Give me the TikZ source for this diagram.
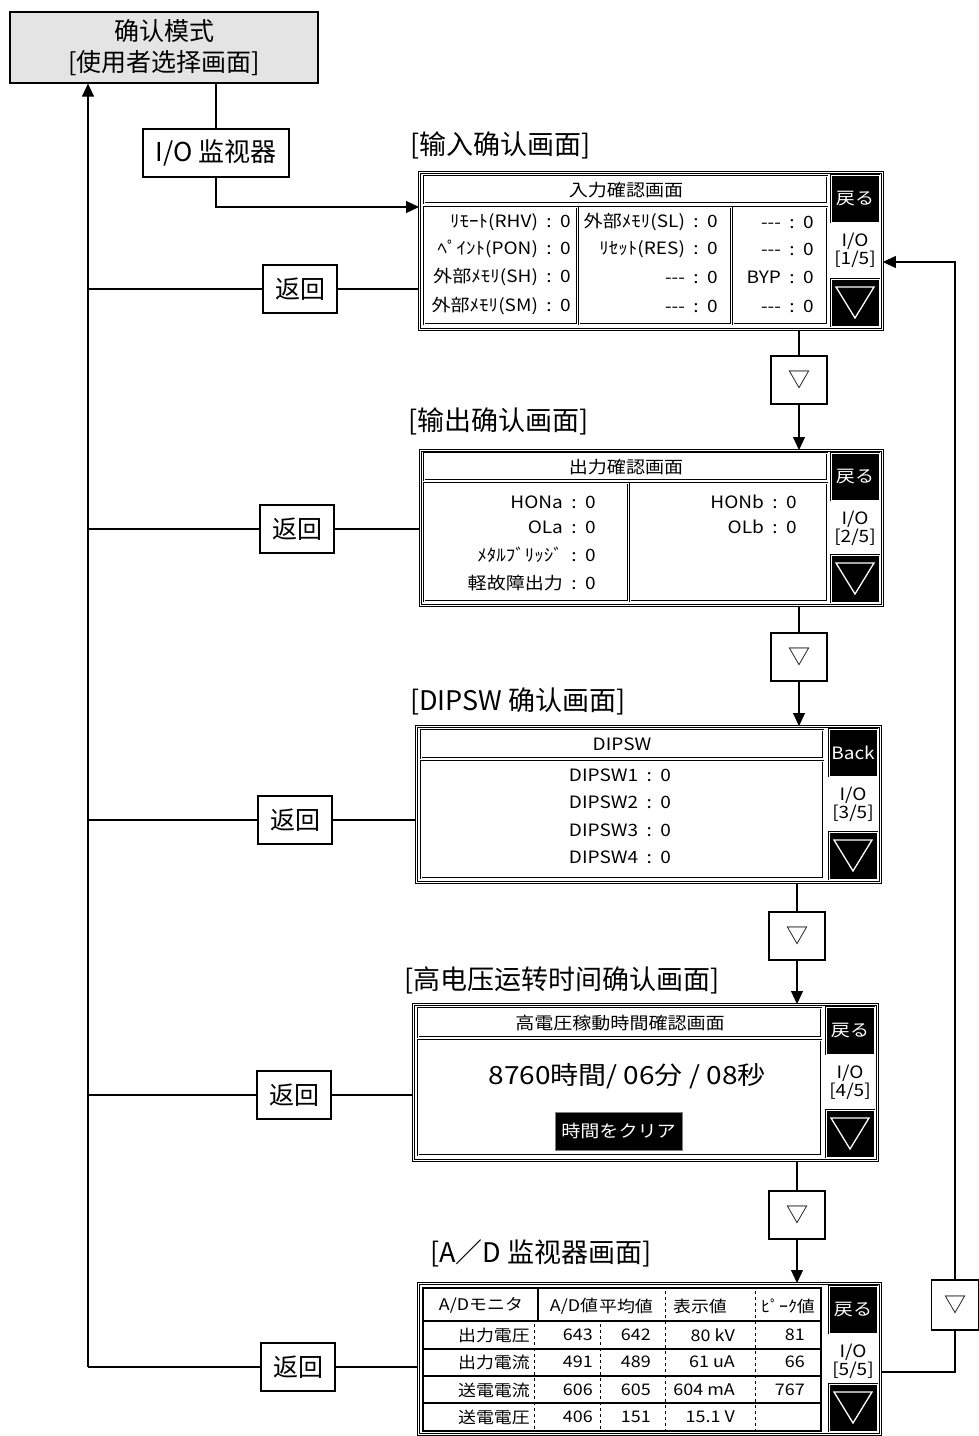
\documentclass[tikz,border=0pt]{standalone}
\usepackage{fontspec}
\usepackage{tikz}
\usetikzlibrary{arrows.meta,positioning}
\setmainfont{Noto Sans CJK SC}
\newfontfamily\hmifont[FakeStretch=1.12]{Noto Sans CJK JP}
\definecolor{panelgray}{HTML}{E4E4E4}
\definecolor{edgegray}{HTML}{7F7F7F}
\tikzset{
  ar/.style={-{Triangle[length=13pt,width=12pt]},line width=1.2pt},
  ln/.style={line width=1.2pt},
  box/.style={draw,line width=1.2pt,fill=white,align=center,inner sep=0pt,font=\fontsize{25}{31}\selectfont},
  navbox/.style={box,minimum width=56pt,minimum height=48pt,font=\fontsize{22}{24}\selectfont},
  retbox/.style={box,minimum width=74pt,minimum height=48pt},
  caption/.style={anchor=west,inner sep=0pt,font=\fontsize{27}{30}\selectfont},
  scr/.style={draw,double,double distance=1.6pt,line width=0.9pt,anchor=north west,inner sep=0pt},
  pane/.style={draw,double,double distance=1pt,line width=0.6pt},
  hmi/.style={inner sep=0pt,font=\hmifont\fontsize{17}{18}\selectfont},
  cell/.style={hmi,font=\hmifont\fontsize{16}{18}\selectfont},
  dsep/.style={dash pattern=on 3pt off 3pt,line width=1pt}
}
\def\dsh{-{}-{}-}
\def\eq{\enspace:\enspace0}

\begin{document}
\begin{tikzpicture}[x=1pt,y=-1pt]
\useasboundingbox (0,0) rectangle (979,1436);

% mode selection and entry
\node[box,fill=panelgray,minimum width=308pt,minimum height=71pt] (top) at (164,47.5) {确认模式\\{[}使用者选择画面{]}};
\node[box,minimum width=146pt,minimum height=48pt,font=\fontsize{26}{30}\selectfont] (io) at (216,153) {I/O 监视器};

% screen captions
\node[caption] (c1) at (410,145) {[输入确认画面]};
\node[caption] (c2) at (408,421) {[输出确认画面]};
\node[caption] (c3) at (410,701) {[DIPSW 确认画面]};
\node[caption] (c4) at (404,980) {[高电压运转时间确认画面]};
\node[caption] (c5) at (430,1253) {[A／D 监视器画面]};

% screen frames with side buttons
\foreach \i/\l/\t/\r/\b/\back in {1/419/172/882/329/戻る,2/420/450/882/605/戻る,3/416/726/880/882/Back,4/413/1004/877/1160/戻る,5/418/1283/880/1434/戻る}{
  \node[scr,minimum width=\r-\l,minimum height=\b-\t] (s\i) at (\l,\t) {};
  \draw[pane,fill=black] (\r-51,\t+3) rectangle (\r-3,\t+50);
  \node[hmi,text=white] at (\r-27,\t+27) {\back};
  \node[hmi] at (\r-27,\t+69) {I/O};
  \node[hmi] at (\r-27,\t+87) {[\i/5]};
  \draw[pane,fill=black] (\r-51,\b-50) rectangle (\r-3,\b-3);
  \draw[white,line width=1.3pt] (\r-46,\b-42) -- (\r-8,\b-42) -- (\r-27,\b-11) -- cycle;
}

% input screen
\draw[pane] (424,176) rectangle (827,203);
\node[hmi] at (626,190) {入力確認画面};
\draw[pane] (424,207) rectangle (577,324);
\draw[pane] (579,207) rectangle (731,324);
\draw[pane] (733,207) rectangle (827,324);
\foreach \y/\a/\b/\c in {222/ﾘﾓｰﾄ(RHV)/外部ﾒﾓﾘ(SL)/\dsh,249/ﾍﾟｲﾝﾄ(PON)/ﾘｾｯﾄ(RES)/\dsh,277/外部ﾒﾓﾘ(SH)/\dsh/BYP,306/外部ﾒﾓﾘ(SM)/\dsh/\dsh}{
  \node[hmi,anchor=east] at (571,\y) {\a\eq};
  \node[hmi,anchor=east] at (718,\y) {\b\eq};
  \node[hmi,anchor=east] at (814,\y) {\c\eq};
}

% output screen
\draw[pane] (424,453) rectangle (827,480);
\node[hmi] at (626,467) {出力確認画面};
\draw[pane] (424,483) rectangle (628,601);
\draw[pane] (630,483) rectangle (827,601);
\foreach \y/\a in {502/HONa,527/OLa,555/ﾒﾀﾙﾌﾞﾘｯｼﾞ,583/軽故障出力}
  \node[hmi,anchor=east] at (596,\y) {\a\eq};
\foreach \y/\a in {502/HONb,527/OLb}
  \node[hmi,anchor=east] at (797,\y) {\a\eq};

% dipsw screen
\draw[pane] (421,730) rectangle (823,758);
\node[hmi] at (622,744) {DIPSW};
\draw[pane] (421,761) rectangle (823,878);
\foreach \y/\n in {775/1,802/2,830/3,857/4}
  \node[hmi] at (620,\y) {DIPSW\n\eq};

% running time screen
\draw[pane] (418,1008) rectangle (821,1037);
\node[hmi] at (620,1023) {高電圧稼動時間確認画面};
\draw[pane] (418,1040) rectangle (821,1155);
\node[hmi,font=\hmifont\fontsize{25}{28}\selectfont] at (627,1076) {8760時間/ 06分 / 08秒};
\draw[fill=black,draw=edgegray,line width=1pt] (555,1112) rectangle (682,1150);
\node[hmi,text=white] at (618.5,1131) {時間をクリア};

% a/d monitor screen
\draw[line width=2pt] (423,1288) rectangle (821,1431);
\draw[line width=2pt] (423,1321) -- (821,1321);
\foreach \y in {1349,1376,1403} \draw[line width=2pt] (423,\y) -- (821,\y);
\draw[line width=2.5pt] (538,1289) -- (538,1321);
\foreach \x in {534,600} \draw[dsep] (\x,1324) -- (\x,1430);
\foreach \x in {665,755} \draw[dsep] (\x,1291) -- (\x,1430);
\node[cell] at (481,1305) {A/Dモニタ};
\node[cell] at (574,1306) {A/D値};
\node[cell] at (626,1306) {平均値};
\node[cell] at (700,1306) {表示値};
\node[cell] at (788,1306) {ﾋﾟｰｸ値};
\foreach \y/\n/\a/\b/\c/\d in {1335/出力電圧/643/642/80 kV/81,1362/出力電流/491/489/61 uA/66,1390/送電電流/606/605/604 mA/767,1417/送電電圧/406/151/15.1 V/{}}{
  \node[cell,anchor=east] at (530,\y) {\n};
  \node[cell,anchor=east] at (593,\y) {\a};
  \node[cell,anchor=east] at (651,\y) {\b};
  \node[cell,anchor=east] at (735,\y) {\c};
  \node[cell,anchor=east] at (805,\y) {\d};
}

% return path
\coordinate (bus) at (88,1367);
\node[retbox] (r1) at (300,289) {返回};
\node[retbox] (r2) at (297,529) {返回};
\node[retbox] (r3) at (295,820) {返回};
\node[retbox] (r4) at (294,1095) {返回};
\node[retbox] (r5) at (298,1367) {返回};
\foreach \i in {1,...,5}{
  \draw[ln] (bus |- r\i) -- (r\i.west);
  \draw[ln] (r\i.east) -- (s\i.west |- r\i);
}
\draw[ar] (bus) -- (top.south -| bus);

% page forward
\draw[ln] (top.south -| io) -- (io);
\draw[ar] (io) |- (s1.west |- 0,207);
\node[navbox] (d1) at (799,380) {▽};
\node[navbox] (d2) at (799,657) {▽};
\node[navbox] (d3) at (797,936) {▽};
\node[navbox] (d4) at (797,1215) {▽};
\foreach \i/\j in {1/2,2/3,3/4,4/5}{
  \draw[ln] (s\i.south -| d\i) -- (d\i);
  \draw[ar] (d\i) -- (s\j.north -| d\i);
}
\node[navbox,minimum width=47pt,minimum height=50pt] (dr) at (955,1305) {▽};
\coordinate (o5) at (880,1372);
\coordinate (i1) at (884,262);
\draw[ln] (s5.east |- o5) -| (dr);
\draw[ar] (dr) |- (s1.east |- i1);
\end{tikzpicture}
\end{document}
